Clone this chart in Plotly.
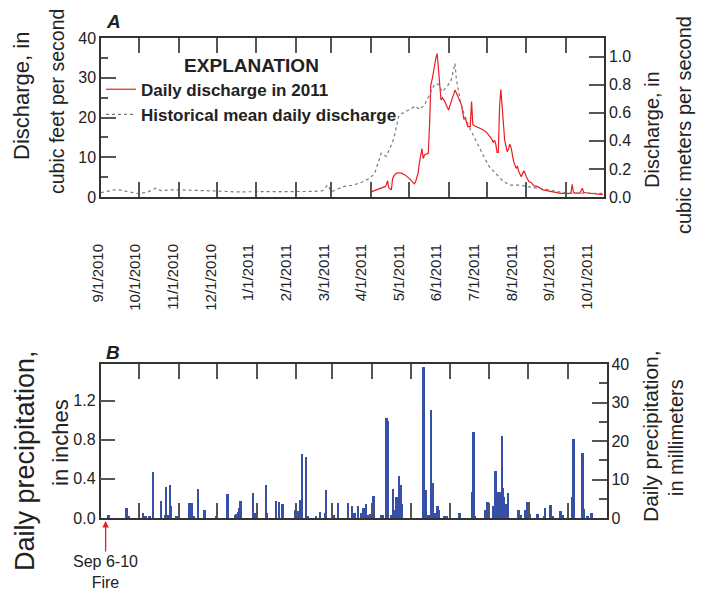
import plotly.graph_objects as go

# The page body adds an 8 px margin, so the figure is drawn 8 px in from the window corner.
WIN_W, WIN_H = 709, 592
OFF = 8
W, H = WIN_W - OFF, WIN_H - OFF

# ---------------- data ----------------
q2011_dates = ["2011-04-01","2011-04-05","2011-04-08","2011-04-10","2011-04-12","2011-04-13","2011-04-14",
  "2011-04-15","2011-04-16","2011-04-17","2011-04-18","2011-04-19","2011-04-21","2011-04-23","2011-04-25",
  "2011-04-28","2011-05-01","2011-05-03","2011-05-05","2011-05-06","2011-05-08","2011-05-09","2011-05-10",
  "2011-05-11","2011-05-12","2011-05-13","2011-05-14","2011-05-16","2011-05-17","2011-05-18","2011-05-19",
  "2011-05-21","2011-05-22","2011-05-23","2011-05-24","2011-05-25","2011-05-26","2011-05-27","2011-05-29",
  "2011-05-31","2011-06-01","2011-06-03","2011-06-05","2011-06-06","2011-06-08","2011-06-10","2011-06-11",
  "2011-06-13","2011-06-14","2011-06-16","2011-06-18","2011-06-19","2011-06-20","2011-06-22","2011-06-24",
  "2011-06-26","2011-06-28","2011-07-01","2011-07-03","2011-07-05","2011-07-06","2011-07-07","2011-07-08",
  "2011-07-09","2011-07-10","2011-07-11","2011-07-12","2011-07-13","2011-07-15","2011-07-17","2011-07-18",
  "2011-07-19","2011-07-20","2011-07-22","2011-07-24","2011-07-25","2011-07-26","2011-07-28","2011-07-30",
  "2011-07-31","2011-08-01","2011-08-03","2011-08-05","2011-08-07","2011-08-10","2011-08-14","2011-08-20",
  "2011-08-28","2011-09-04","2011-09-05","2011-09-06","2011-09-07","2011-09-08","2011-09-12","2011-09-14",
  "2011-09-15","2011-09-18","2011-09-24","2011-09-30"]
q2011_cfs = [1.3,1.8,2.2,2.4,2.6,3.0,4.1,
  2.3,1.9,1.8,4.6,5.3,6.0,6.1,6.0,
  5.5,4.7,4.0,3.3,3.8,6.0,8.5,10.5,
  12.2,9.7,10.5,10.7,11.0,18.0,28.2,29.5,
  33.6,35.0,36.1,32.0,27.0,24.4,25.0,24.0,
  22.5,21.9,24.0,26.0,26.9,25.5,23.8,23.2,
  19.5,20.0,17.7,17.7,24.0,18.2,17.8,17.5,
  17.0,16.9,16.2,15.4,14.5,13.7,14.3,13.3,
  11.2,11.2,22.7,27.1,23.5,14.3,11.4,12.0,
  13.3,12.5,9.0,7.2,7.8,6.4,5.1,6.6,
  6.0,5.1,3.9,3.6,2.8,2.6,1.8,1.4,
  0.9,0.9,0.9,3.2,1.2,1.0,1.0,2.2,
  1.2,1.0,0.8,0.6]

hist_dates = ["2010-09-01","2010-09-08","2010-09-13","2010-09-20","2010-10-01","2010-10-08","2010-10-14",
  "2010-10-18","2010-10-25","2010-11-01","2010-11-15","2010-12-01","2010-12-15","2011-01-01","2011-01-15",
  "2011-02-01","2011-02-15","2011-02-22","2011-02-26","2011-03-01","2011-03-10","2011-03-18","2011-03-24",
  "2011-03-31","2011-04-04","2011-04-09","2011-04-13","2011-04-17","2011-04-19","2011-04-23","2011-04-28",
  "2011-05-03","2011-05-06","2011-05-09","2011-05-13","2011-05-18","2011-05-21","2011-05-24","2011-05-27",
  "2011-05-31","2011-06-03","2011-06-06","2011-06-07","2011-06-10","2011-06-13","2011-06-17","2011-06-22",
  "2011-06-28","2011-07-03","2011-07-08","2011-07-14","2011-07-19","2011-07-27","2011-08-04","2011-08-12",
  "2011-08-19","2011-08-25","2011-09-04","2011-09-14","2011-09-30"]
hist_cfs = [1.1,1.5,1.9,1.5,0.8,1.3,2.2,
  1.6,1.8,1.8,1.7,1.5,1.3,1.3,1.3,
  1.3,1.4,1.6,3.0,1.3,2.6,3.0,3.6,
  4.7,6.0,11.0,10.2,13.1,14.8,20.6,21.4,
  22.3,22.9,22.0,23.1,26.5,28.4,28.4,26.5,
  27.9,29.4,33.6,29.9,24.4,21.0,17.7,14.3,
  10.6,7.6,6.0,3.9,3.0,3.0,2.5,2.2,
  1.8,1.4,0.9,1.0,0.9]

precip_dates = ["2010-09-07","2010-09-21","2010-09-23","2010-10-04","2010-10-06","2010-10-09","2010-10-12",
  "2010-10-18","2010-10-21","2010-10-22","2010-10-24","2010-10-25","2010-10-26","2010-10-30","2010-11-09",
  "2010-11-11","2010-11-13","2010-11-16","2010-11-21","2010-11-30","2010-12-09","2010-12-15","2010-12-16",
  "2010-12-17","2010-12-18","2010-12-19","2010-12-29","2010-12-30","2011-01-08","2011-01-09","2011-01-16",
  "2011-01-18","2011-01-21","2011-01-31","2011-02-02","2011-02-04","2011-02-05","2011-02-08","2011-02-10",
  "2011-02-16","2011-02-19","2011-02-23","2011-02-24","2011-03-02","2011-03-05","2011-03-13","2011-03-16",
  "2011-03-18","2011-03-21","2011-03-23","2011-03-25","2011-03-26","2011-03-27","2011-03-29","2011-03-30",
  "2011-04-02","2011-04-08","2011-04-09","2011-04-12","2011-04-13","2011-04-16","2011-04-17","2011-04-18",
  "2011-04-19","2011-04-20","2011-04-22","2011-04-23","2011-04-24","2011-05-11","2011-05-13","2011-05-15",
  "2011-05-17","2011-05-18","2011-05-19","2011-05-20","2011-05-22","2011-05-23","2011-05-27","2011-05-29",
  "2011-06-08","2011-06-18","2011-06-19","2011-06-20","2011-06-28","2011-06-30","2011-07-04","2011-07-06",
  "2011-07-07","2011-07-08","2011-07-09","2011-07-10","2011-07-11","2011-07-12","2011-07-13","2011-07-14",
  "2011-07-16","2011-07-24","2011-07-26","2011-07-29","2011-07-31","2011-08-01","2011-08-02","2011-08-08",
  "2011-08-13","2011-08-14","2011-08-18","2011-08-20","2011-08-26","2011-08-28","2011-09-04","2011-09-05",
  "2011-09-12","2011-09-13","2011-09-16","2011-09-19"]
precip_in = [0.03,0.10,0.02,0.05,0.02,0.02,0.47,
  0.17,0.03,0.32,0.03,0.34,0.12,0.02,0.15,
  0.15,0.02,0.30,0.08,0.02,0.25,0.03,0.04,
  0.06,0.10,0.17,0.26,0.05,0.34,0.05,0.17,
  0.16,0.14,0.08,0.07,0.18,0.65,0.62,0.02,
  0.02,0.06,0.05,0.29,0.03,0.15,0.15,0.12,
  0.05,0.12,0.05,0.10,0.10,0.14,0.03,0.04,
  0.22,0.03,0.03,1.02,0.99,0.03,0.30,0.08,
  0.05,0.21,0.43,0.34,0.14,1.54,0.29,0.03,
  1.10,0.36,0.05,0.05,0.12,0.08,0.02,0.02,
  0.05,0.27,0.88,0.02,0.08,0.16,0.12,0.48,
  0.02,0.27,0.27,0.27,0.84,0.31,0.21,0.14,
  0.26,0.08,0.03,0.08,0.16,0.16,0.04,0.04,
  0.02,0.10,0.13,0.02,0.07,0.03,0.21,0.81,
  0.66,0.09,0.02,0.05]

date_labels = ["9/1/2010","10/1/2010","11/1/2010","12/1/2010","1/1/2011","2/1/2011","3/1/2011",
               "4/1/2011","5/1/2011","6/1/2011","7/1/2011","8/1/2011","9/1/2011","10/1/2011"]

X_START, X_END = "2010-09-01", "2011-10-01"
CFS_TO_CMS = 0.0283168
IN_TO_MM = 25.4

# ---------------- styling helpers ----------------
FONT = "Liberation Sans, Arial, sans-serif"
AX = "#333333"
TK = "#555555"
TXT = "#222222"
RED = "#ec1c24"
BLUE = "#3550a6"

def px_x(p):
    return (p - OFF) / W

def px_y(p):
    return 1 - (p - OFF) / H

top_dom_y = [px_y(197), px_y(38)]
bot_dom_y = [px_y(518), px_y(364)]

fig = go.Figure()

fig.add_trace(go.Scatter(x=q2011_dates, y=q2011_cfs, mode="lines", name="Daily discharge in 2011",
                         line=dict(color=RED, width=1.2), xaxis="x", yaxis="y"))
fig.add_trace(go.Scatter(x=hist_dates, y=hist_cfs, mode="lines", name="Historical mean daily discharge",
                         line=dict(color="#7a7a7a", width=1.2, dash="dot"), xaxis="x", yaxis="y"))
fig.add_trace(go.Bar(x=precip_dates, y=precip_in, marker=dict(color=BLUE, line=dict(width=0)),
                     width=86400000 * 1.5, showlegend=False, xaxis="x2", yaxis="y2"))
# carriers so that the secondary axes are drawn
fig.add_trace(go.Scatter(x=[X_START], y=[None], mode="lines", showlegend=False, hoverinfo="skip",
                         xaxis="x", yaxis="y3"))
fig.add_trace(go.Scatter(x=[X_START], y=[None], mode="lines", showlegend=False, hoverinfo="skip",
                         xaxis="x2", yaxis="y4"))
fig.add_trace(go.Scatter(x=[0, len(date_labels) - 1], y=[None, None], mode="lines", showlegend=False,
                         hoverinfo="skip", xaxis="x3", yaxis="y"))

date_axis = dict(type="date", range=[X_START, X_END], showticklabels=False, ticks="inside",
                 ticklen=15, tickwidth=1.5, tickcolor=TK, dtick="M1", tick0=X_START,
                 showline=True, linecolor=AX, linewidth=1.5, mirror="ticks", showgrid=False,
                 zeroline=False, automargin=False)

yfont = dict(family=FONT, size=16, color=TXT)
common_y = dict(ticks="inside", ticklen=15, tickwidth=1.5, tickcolor=TK, showline=True, linecolor=AX,
                linewidth=1.5, showgrid=False, zeroline=False, tickfont=yfont, automargin=False)

fig.update_layout(
    template="none",
    width=W, height=H, margin=dict(l=0, r=0, t=0, b=0, autoexpand=False),
    font=dict(family=FONT, color=TXT),
    paper_bgcolor="white", plot_bgcolor="rgba(0,0,0,0)", bargap=0,
    xaxis=dict(**date_axis, domain=[px_x(101), px_x(604)], anchor="y"),
    xaxis2=dict(**date_axis, domain=[px_x(100.5), px_x(606.5)], anchor="y2"),
    xaxis3=dict(domain=[px_x(98), px_x(587)], range=[0, len(date_labels) - 1], anchor="free",
                position=px_y(240), tickmode="array", tickvals=list(range(len(date_labels))),
                ticktext=date_labels, tickangle=-90, ticks="", showline=False, showgrid=False,
                zeroline=False, automargin=False, tickfont=dict(family=FONT, size=15, color=TXT)),
    yaxis=dict(**common_y, domain=top_dom_y, range=[0, 40], tickvals=[0, 10, 20, 30, 40],
               minor=dict(dtick=5, ticks="inside", ticklen=7, tickwidth=1.5, tickcolor=TK,
                          showgrid=False), anchor="x"),
    yaxis3=dict(**common_y, domain=top_dom_y, range=[0, 40 * CFS_TO_CMS], overlaying="y", side="right",
                tickvals=[0, 0.2, 0.4, 0.6, 0.8, 1.0], tickformat=".1f", anchor="x"),
    yaxis2=dict(**common_y, domain=bot_dom_y, range=[0, 40 / IN_TO_MM], tickvals=[0, 0.4, 0.8, 1.2],
                tickformat=".1f", anchor="x2"),
    yaxis4=dict(**common_y, domain=bot_dom_y, range=[0, 40], overlaying="y2", side="right",
                tickvals=[0, 10, 20, 30, 40],
                minor=dict(dtick=5, ticks="inside", ticklen=8, tickwidth=1.5, tickcolor=TK,
                           showgrid=False), anchor="x2"),
    legend=dict(x=px_x(101), y=px_y(47), xanchor="left", yanchor="top", bgcolor="rgba(0,0,0,0)",
                font=dict(family=FONT, size=17, color=TXT, weight="bold"),
                title=dict(text="EXPLANATION", side="top center",
                           font=dict(family=FONT, size=19, color=TXT, weight="bold")),
                tracegroupgap=0, itemwidth=30),
    showlegend=True,
)

ann = []
def vtext(text, x, y, size):
    ann.append(dict(text=text, x=px_x(x), y=px_y(y), xref="paper", yref="paper", showarrow=False,
                    textangle=-90, xanchor="center", yanchor="middle",
                    font=dict(family=FONT, size=size, color=TXT)))

vtext("Discharge, in", 22, 96, 22)
vtext("cubic feet per second", 57, 102, 19.5)
vtext("Discharge, in", 652, 130, 20)
vtext("cubic meters per second", 684, 125, 20)
vtext("Daily precipitation,", 25, 461, 27)
vtext("in inches", 60, 443, 22)
vtext("Daily precipitation,", 650, 436, 21)
vtext("in millimeters", 676, 438, 20)

for lab, yy in (("A", 21), ("B", 352)):
    ann.append(dict(text="<b><i>" + lab + "</i></b>", x=px_x(113), y=px_y(yy), xref="paper", yref="paper",
                    showarrow=False, xanchor="center", yanchor="middle",
                    font=dict(family=FONT, size=19, color=TXT)))

ann.append(dict(text="Sep 6-10<br>Fire", x="2010-09-05", y=px_y(521), xref="x2", yref="paper",
                showarrow=True, arrowhead=2, arrowsize=1, arrowwidth=1.3, arrowcolor=RED,
                ax=0, ay=51, font=dict(family=FONT, size=16, color=TXT)))

fig.update_layout(annotations=ann)
fig.write_html("out.html")
